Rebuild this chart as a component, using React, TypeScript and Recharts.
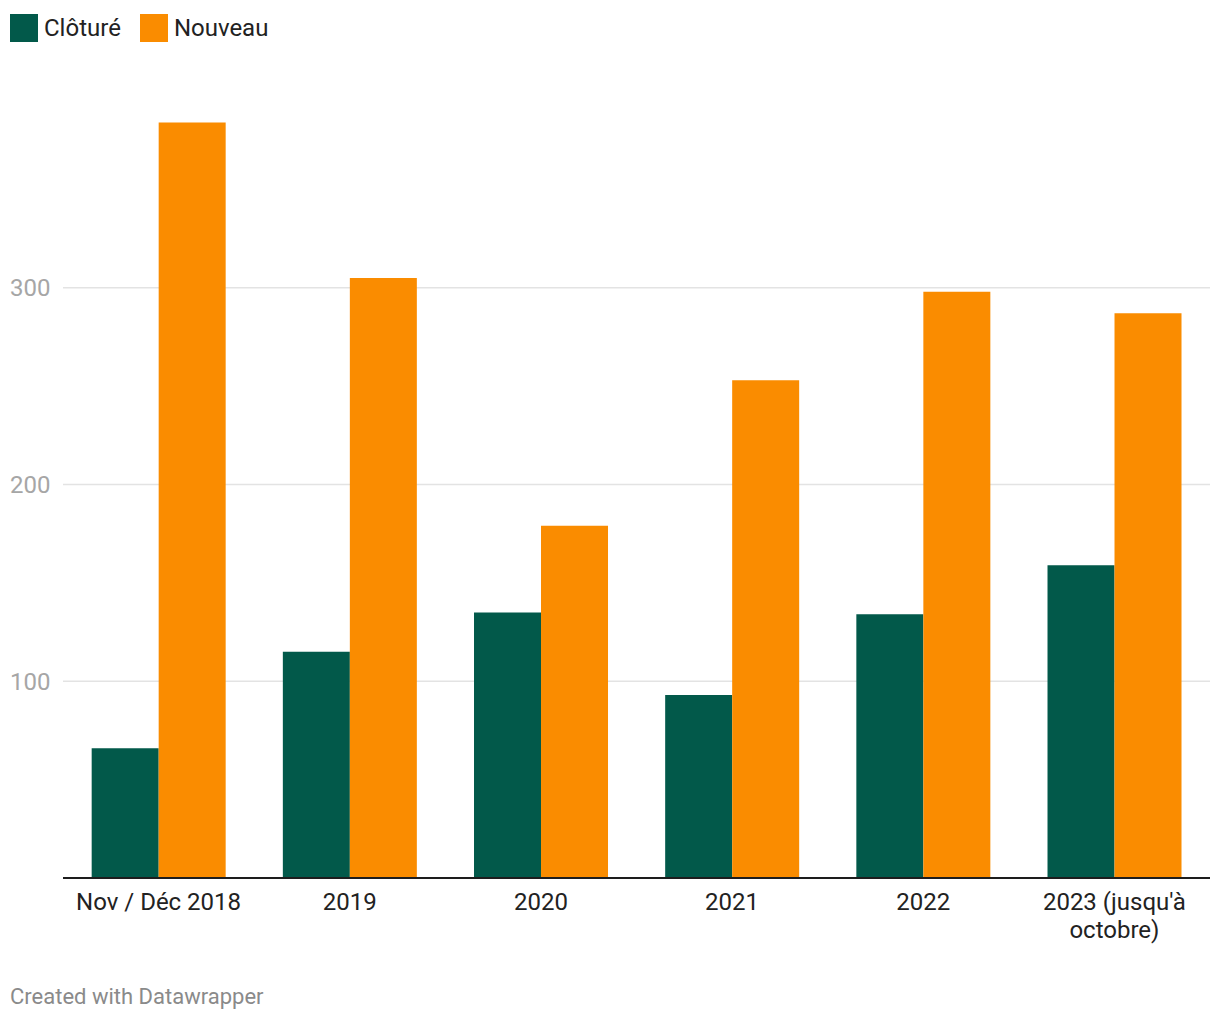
import React from "react";
import { BarChart, Bar, XAxis, YAxis, CartesianGrid } from "recharts";

const categories = ["Nov / Déc 2018", "2019", "2020", "2021", "2022", "2023 (jusqu'à octobre)"];
const cloture = [66, 115, 135, 93, 134, 159];
const nouveau = [384, 305, 179, 253, 298, 287];
const yTicks = [100, 200, 300];
const seriesNames = ["Clôturé", "Nouveau"];
const seriesColors = ["#02594a", "#fa8c00"];

const data = categories.map((c, i) => ({ cat: c, cloture: cloture[i], nouveau: nouveau[i] }));

const FONT = "Roboto, 'Noto Sans', sans-serif";

function wrap(label: string, maxChars: number): string[] {
  const words = label.split(" ");
  const lines: string[] = [];
  let cur = "";
  for (const w of words) {
    const cand = cur ? cur + " " + w : w;
    if (cand.length > maxChars && cur) {
      lines.push(cur);
      cur = w;
    } else cur = cand;
  }
  if (cur) lines.push(cur);
  return lines;
}

const XTick = (props: any) => {
  const { x, y, payload } = props;
  const lines = wrap(String(payload.value), 14);
  return (
    <text x={x} y={y} textAnchor="middle" fill="#222" fontSize={24} fontFamily={FONT}>
      {lines.map((l, i) => (
        <tspan key={i} x={x} dy={i === 0 ? 32 : 27.5}>
          {l}
        </tspan>
      ))}
    </text>
  );
};

const YTick = (props: any) => {
  const { y, payload } = props;
  return (
    <text x={10} y={y} dy={8.5} textAnchor="start" fill="#a6a6a6" fontSize={24} fontFamily={FONT}>
      {payload.value}
    </text>
  );
};

export default function App() {
  return (
    <div style={{ position: "absolute", left: 0, top: 0, width: 1220, height: 1020, background: "#fff", fontFamily: FONT }}>
      <div style={{ position: "absolute", left: 10, top: 14, display: "flex", alignItems: "center" }}>
        {seriesNames.map((n, i) => (
          <div key={n} style={{ display: "flex", alignItems: "center", marginRight: i === 0 ? 19 : 0 }}>
            <div style={{ width: 28, height: 28, background: seriesColors[i] }} />
            <span style={{ marginLeft: 6, fontSize: 24, color: "#222", lineHeight: "28px" }}>{n}</span>
          </div>
        ))}
      </div>
      <BarChart
        width={1220}
        height={1020}
        data={data}
        margin={{ top: 91, right: 10, bottom: 82, left: 0 }}
        barCategoryGap="15%"
        barGap={0}
      >
        <CartesianGrid vertical={false} horizontalValues={yTicks} stroke="#e3e3e3" strokeWidth={1.5} />
        <XAxis
          dataKey="cat"
          height={60}
          tick={<XTick />}
          tickLine={false}
          tickSize={0}
          tickMargin={0}
          axisLine={{ stroke: "#1d1d1d", strokeWidth: 2 }}
          interval={0}
        />
        <YAxis
          width={63}
          domain={[0, 400]}
          ticks={yTicks}
          tick={<YTick />}
          axisLine={false}
          tickLine={false}
        />
        <Bar dataKey="cloture" name={seriesNames[0]} fill={seriesColors[0]} isAnimationActive={false} />
        <Bar dataKey="nouveau" name={seriesNames[1]} fill={seriesColors[1]} isAnimationActive={false} />
      </BarChart>
      <div style={{ position: "absolute", left: 10, top: 983, fontSize: 22, color: "#8a8a8a", lineHeight: "28px" }}>
        Created with Datawrapper
      </div>
    </div>
  );
}
